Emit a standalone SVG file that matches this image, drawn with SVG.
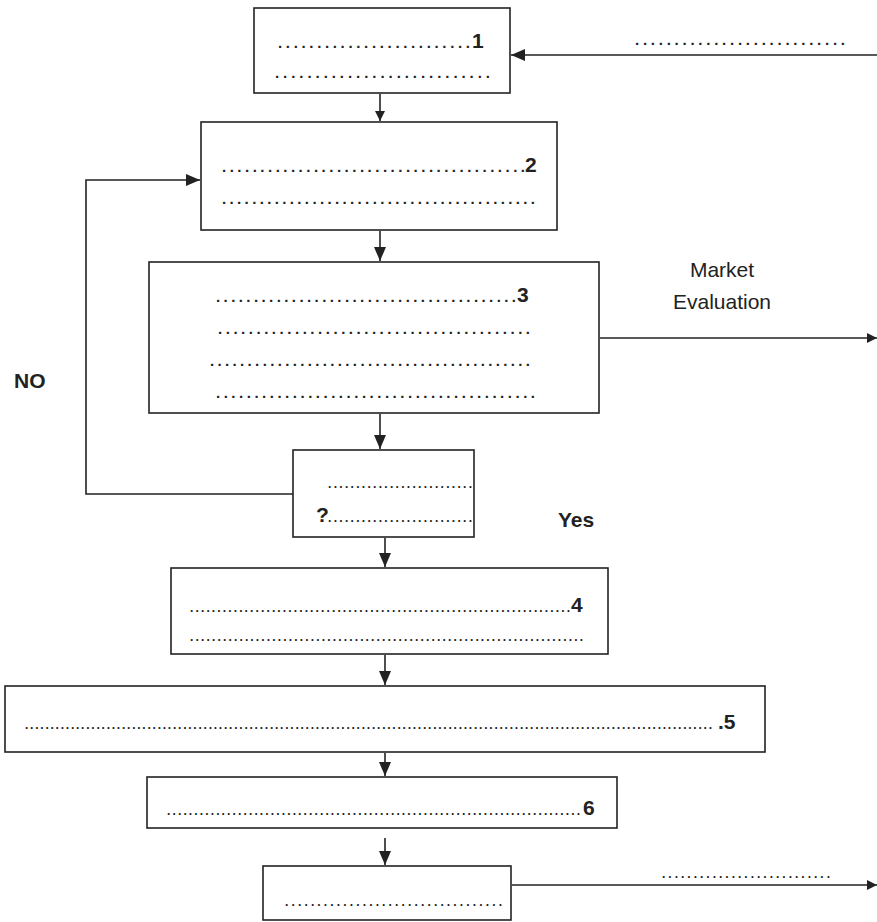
<svg xmlns="http://www.w3.org/2000/svg" width="877" height="922" viewBox="0 0 877 922">
<style>
.box{fill:#fff;stroke:#222;stroke-width:1.6}
.ln{fill:none;stroke:#222;stroke-width:1.6}
.d{font-family:"Liberation Sans",Arial,sans-serif;font-size:15px;fill:#222;font-weight:bold}
.d2{font-family:"Liberation Sans",Arial,sans-serif;font-size:12px;fill:#222;font-weight:bold}
.n{font-family:"Liberation Sans",Arial,sans-serif;font-size:21px;fill:#222;font-weight:bold}
.t{font-family:"Liberation Sans",Arial,sans-serif;font-size:21px;fill:#222}
</style>
<defs>
<marker id="ah" viewBox="0 0 10 10" refX="10" refY="5" markerWidth="10" markerHeight="10" markerUnits="userSpaceOnUse" orient="auto">
<path d="M0,0 L10,5 L0,10 z" fill="#222"/>
</marker>
<marker id="ahL" viewBox="0 0 14 12" refX="14" refY="6" markerWidth="14" markerHeight="12" markerUnits="userSpaceOnUse" orient="auto">
<path d="M0,0 L14,6 L0,12 z" fill="#222"/>
</marker>
</defs>
<rect width="877" height="922" fill="#fff"/>

<g id="connectors">
<line class="ln" x1="877" y1="55" x2="511" y2="55" marker-end="url(#ahL)"/>
<line class="ln" x1="380" y1="94" x2="380" y2="121" marker-end="url(#ah)"/>
<line class="ln" x1="380" y1="231" x2="380" y2="261" marker-end="url(#ahL)"/>
<line class="ln" x1="600" y1="338" x2="877" y2="338" marker-end="url(#ah)"/>
<line class="ln" x1="380" y1="414" x2="380" y2="449" marker-end="url(#ahL)"/>
<polyline class="ln" points="293,494 86,494 86,180 200,180" marker-end="url(#ahL)"/>
<line class="ln" x1="385" y1="538" x2="385" y2="567" marker-end="url(#ahL)"/>
<line class="ln" x1="385" y1="655" x2="385" y2="685" marker-end="url(#ahL)"/>
<line class="ln" x1="385" y1="753" x2="385" y2="776" marker-end="url(#ahL)"/>
<line class="ln" x1="385" y1="838" x2="385" y2="865" marker-end="url(#ahL)"/>
<line class="ln" x1="512" y1="885" x2="877" y2="885" marker-end="url(#ah)"/>
<text class="d" x="635" y="45" textLength="210" lengthAdjust="spacing">...........................</text>
<text class="t" x="722" y="277" text-anchor="middle">Market</text>
<text class="t" x="722" y="309" text-anchor="middle">Evaluation</text>
<text class="n" x="14" y="388">NO</text>
<text class="n" x="558" y="527">Yes</text>
<text class="d2" x="662" y="878" textLength="168" lengthAdjust="spacing">...........................</text>
</g>

<g id="node1">
<rect class="box" x="254" y="8" width="256" height="85"/>
<text class="d" x="278" y="48" textLength="192" lengthAdjust="spacing">.........................</text>
<text class="n" x="472" y="48">1</text>
<text class="d" x="275" y="78" textLength="215" lengthAdjust="spacing">...........................</text>
</g>

<g id="node2">
<rect class="box" x="201" y="122" width="356" height="108"/>
<text class="d" x="222" y="172" textLength="303" lengthAdjust="spacing">........................................</text>
<text class="n" x="525" y="172">2</text>
<text class="d" x="222" y="204" textLength="313" lengthAdjust="spacing">..........................................</text>
</g>

<g id="node3">
<rect class="box" x="149" y="262" width="450" height="151"/>
<text class="d" x="216" y="302" textLength="300" lengthAdjust="spacing">........................................</text>
<text class="n" x="517" y="302">3</text>
<text class="d" x="218" y="334" textLength="312" lengthAdjust="spacing">.........................................</text>
<text class="d" x="210" y="366" textLength="320" lengthAdjust="spacing">...........................................</text>
<text class="d" x="216" y="398" textLength="319" lengthAdjust="spacing">..........................................</text>
</g>

<g id="decision">
<rect class="box" x="293" y="450" width="181" height="87"/>
<text class="d2" x="328" y="488" textLength="144" lengthAdjust="spacing">..........................</text>
<text class="n" x="316" y="522">?</text>
<text class="d2" x="328" y="522" textLength="144" lengthAdjust="spacing">..........................</text>
</g>

<g id="node4">
<rect class="box" x="171" y="568" width="437" height="86"/>
<text class="d2" x="190" y="612" textLength="380" lengthAdjust="spacing">......................................................................</text>
<text class="n" x="571" y="612">4</text>
<text class="d2" x="190" y="641" textLength="393" lengthAdjust="spacing">........................................................................</text>
</g>

<g id="node5">
<rect class="box" x="5" y="686" width="760" height="66"/>
<text class="d2" x="25" y="729" textLength="687" lengthAdjust="spacing">.......................................................................................................................................</text>
<text class="n" x="718" y="729">.5</text>
</g>

<g id="node6">
<rect class="box" x="147" y="777" width="470" height="51"/>
<text class="d2" x="167" y="815" textLength="413" lengthAdjust="spacing">............................................................................</text>
<text class="n" x="583" y="815">6</text>
</g>

<g id="node7">
<rect class="box" x="263" y="866" width="248" height="54"/>
<text class="d2" x="285" y="906" textLength="217" lengthAdjust="spacing">..................................</text>
</g>
</svg>
